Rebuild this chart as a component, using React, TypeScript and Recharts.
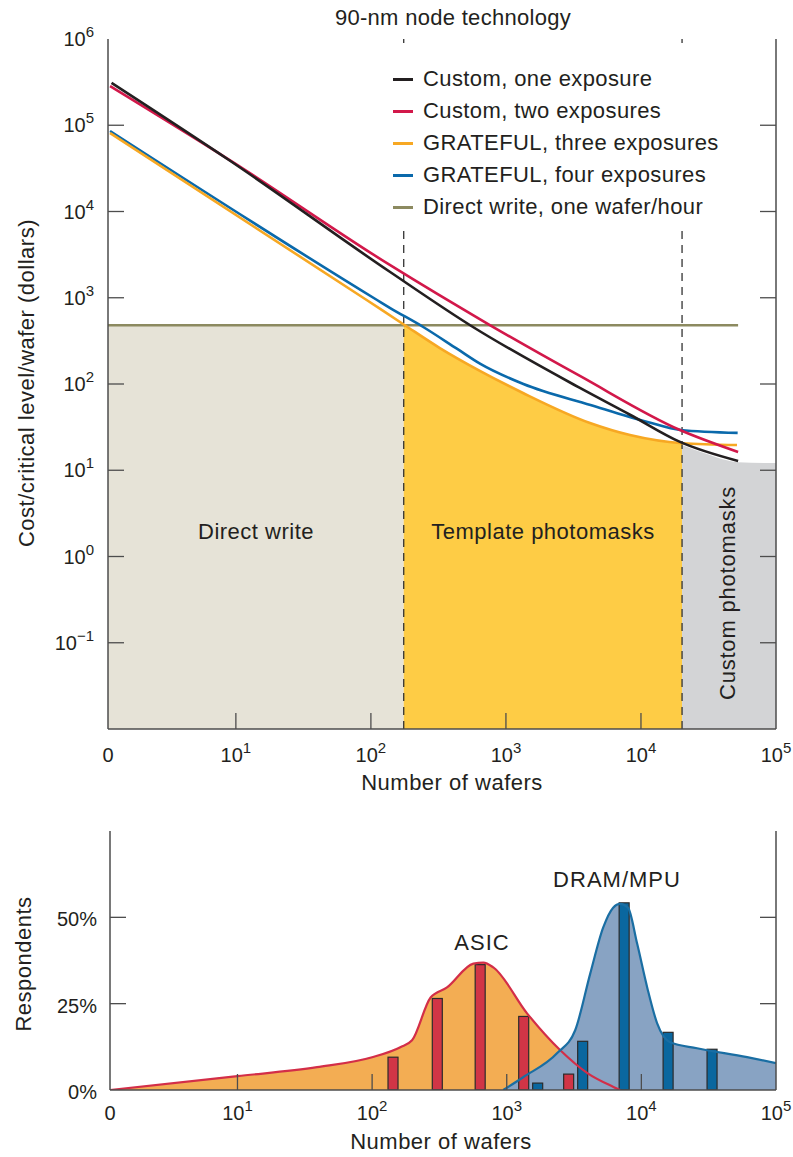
import React from "react";
import {
  Area,
  Bar,
  Cell,
  ComposedChart,
  Legend,
  Line,
  ReferenceLine,
  XAxis,
  YAxis,
} from "recharts";

// axis ranges (x axis starts at "0" = first decade)
const X_MIN = 1.13;
const X_MAX = 100000;
const COST_MIN = 0.01;
const COST_MAX = 1000000;
const PCT_MAX = 75;

// region boundaries and the flat direct-write cost
const TEMPLATE_START = 175;
const CUSTOM_START = 20150;
const DIRECT_WRITE_COST = 480;

const waferTicks = [X_MIN, 10, 100, 1000, 10000, 100000];
const costTicks = [1000000, 100000, 10000, 1000, 100, 10, 1, 0.1];
const pctTicks = [0, 25, 50];

const seriesNames = [
  "Custom, one exposure",
  "Custom, two exposures",
  "GRATEFUL, three exposures",
  "GRATEFUL, four exposures",
  "Direct write, one wafer/hour",
];

// cost per critical level per wafer (dollars) vs number of wafers
const customOne = [
  { n: 1.2, cost: 310000 },
  { n: 9, cost: 39000 },
  { n: 138, cost: 2000 },
  { n: 570, cost: 458 },
  { n: 3530, cost: 90 },
  { n: 8300, cost: 44 },
  { n: 19450, cost: 21.3 },
  { n: 52400, cost: 12.8 },
];
const customTwo = [
  { n: 1.17, cost: 285000 },
  { n: 9, cost: 39500 },
  { n: 138, cost: 2400 },
  { n: 760, cost: 483 },
  { n: 3530, cost: 124 },
  { n: 19450, cost: 29.3 },
  { n: 52400, cost: 16.3 },
];
const gratefulThree = [
  { n: 1.17, cost: 81300 },
  { n: 93, cost: 942 },
  { n: 175, cost: 490 },
  { n: 324, cost: 261 },
  { n: 641, cost: 142 },
  { n: 1337, cost: 78.7 },
  { n: 4190, cost: 35.3 },
  { n: 8290, cost: 25.6 },
  { n: 20150, cost: 20.6 },
  { n: 51400, cost: 19.6 },
];
const gratefulFour = [
  { n: 1.17, cost: 85800 },
  { n: 111, cost: 942 },
  { n: 139, cost: 760 },
  { n: 244, cost: 458 },
  { n: 436, cost: 255 },
  { n: 647, cost: 171 },
  { n: 1347, cost: 100 },
  { n: 4227, cost: 57.1 },
  { n: 11190, cost: 36.3 },
  { n: 19650, cost: 29.3 },
  { n: 52000, cost: 27.1 },
];
const directWrite = [
  { n: X_MIN, cost: DIRECT_WRITE_COST },
  { n: 52400, cost: DIRECT_WRITE_COST },
];
const customMaskZone = [
  { n: 20150, cost: 19.6 },
  { n: 30000, cost: 15.6 },
  { n: 52400, cost: 12.4 },
  { n: 100000, cost: 12.1 },
];

// survey of respondents (%) vs number of wafers
const asicCurve = [
  { n: X_MIN, pct: 0 },
  { n: 10, pct: 4.0 },
  { n: 39, pct: 6.6 },
  { n: 100, pct: 9.5 },
  { n: 162, pct: 12.4 },
  { n: 198, pct: 14.4 },
  { n: 272, pct: 26.8 },
  { n: 360, pct: 29.7 },
  { n: 565, pct: 36.6 },
  { n: 670, pct: 36.9 },
  { n: 795, pct: 35.5 },
  { n: 1415, pct: 22.2 },
  { n: 2500, pct: 11.5 },
  { n: 3970, pct: 4.9 },
  { n: 6200, pct: 0.9 },
  { n: 6950, pct: 0 },
];
const dramCurve = [
  { n: 942, pct: 0 },
  { n: 1324, pct: 3.7 },
  { n: 2372, pct: 10.7 },
  { n: 3224, pct: 17.3 },
  { n: 4170, pct: 33.7 },
  { n: 5200, pct: 47 },
  { n: 6170, pct: 52.8 },
  { n: 6950, pct: 53.9 },
  { n: 7950, pct: 52.8 },
  { n: 9300, pct: 42.4 },
  { n: 11050, pct: 29.7 },
  { n: 13100, pct: 19.3 },
  { n: 16350, pct: 13.8 },
  { n: 25900, pct: 12.1 },
  { n: 61000, pct: 9.5 },
  { n: 100000, pct: 7.8 },
];
const asicBars = [
  { n: 143, pct: 9.5 },
  { n: 305, pct: 26.5 },
  { n: 635, pct: 36.3 },
  { n: 1337, pct: 21.3 },
  { n: 2884, pct: 4.6 },
];
const dramBars = [
  { n: 1698, pct: 2.0 },
  { n: 3665, pct: 14.1 },
  { n: 7450, pct: 54.2 },
  { n: 15800, pct: 16.7 },
  { n: 33500, pct: 11.8 },
];

const FONT = '"Liberation Sans", Arial, Helvetica, sans-serif';
const INK = "#231f20";
const AXIS = "#4d4d4d";
const TICK_LEN = 16;
const BAR_W = 10;
const axisLine = { stroke: AXIS, strokeWidth: 1.5 };

const C = {
  black: "#231f20",
  red: "#d2184a",
  orange: "#f7a823",
  blue: "#0a69ab",
  olive: "#8c8a60",
  beige: "#e6e3d7",
  yellow: "#fecc45",
  grey: "#d3d4d6",
  asicFill: "#f3ad53",
  asicLine: "#d32e48",
  asicBar: "#d13546",
  dramFill: "#88a3c3",
  dramLine: "#1a6ea3",
  dramBar: "#0a679f",
};

function PowerLabel({ x, y, value, anchor }: any) {
  if (value === X_MIN) {
    return (
      <text x={x} y={y} textAnchor={anchor} fontSize={20} fontFamily={FONT} fill={INK}>
        0
      </text>
    );
  }
  const e = Math.round(Math.log10(value));
  const exp = e < 0 ? "\u2212" + -e : String(e);
  return (
    <text x={x} y={y} textAnchor={anchor} fontSize={20} fontFamily={FONT} fill={INK}>
      <tspan>10</tspan>
      <tspan dy={-9} fontSize={15}>
        {exp}
      </tspan>
    </text>
  );
}

function WaferTick(props: any) {
  const { x, y, payload, labelDy } = props;
  const v = payload.value;
  const edge = v === X_MIN || v === X_MAX;
  return (
    <g>
      {!edge && <line x1={x} y1={y} x2={x} y2={y - TICK_LEN} stroke={AXIS} strokeWidth={1.3} />}
      <PowerLabel x={x} y={y + labelDy} value={v} anchor="middle" />
    </g>
  );
}

function TopTick(props: any) {
  const { x, y, payload } = props;
  const v = payload.value;
  if (v === X_MIN || v === X_MAX) return <g />;
  return <line x1={x} y1={y} x2={x} y2={y + TICK_LEN} stroke={AXIS} strokeWidth={1.3} />;
}

function CostTick(props: any) {
  const { x, y, payload } = props;
  const v = payload.value;
  return (
    <g>
      {v !== COST_MAX && <line x1={x} y1={y} x2={x + TICK_LEN} y2={y} stroke={AXIS} strokeWidth={1.3} />}
      <PowerLabel x={x - 14} y={y + 7} value={v} anchor="end" />
    </g>
  );
}

function RightTick(props: any) {
  const { x, y, payload, top } = props;
  if (payload.value === top || payload.value === 0) return <g />;
  return <line x1={x} y1={y} x2={x - TICK_LEN} y2={y} stroke={AXIS} strokeWidth={1.3} />;
}

function PctTick(props: any) {
  const { x, y, payload } = props;
  const v = payload.value;
  return (
    <g>
      {v !== 0 && <line x1={x} y1={y} x2={x + TICK_LEN} y2={y} stroke={AXIS} strokeWidth={1.3} />}
      <text x={x - 13} y={y + 9} textAnchor="end" fontSize={20} fontFamily={FONT} fill={INK}>
        {v}%
      </text>
    </g>
  );
}

// fixed-width bar centred on its x value (the log axis gives no band width)
function SurveyBar(props: any) {
  const { x, y, width, height, payload } = props;
  if (height == null || isNaN(height)) return <g />;
  const cx = x + (width || 0) / 2;
  const fill = payload && payload.group === "ASIC" ? C.asicBar : C.dramBar;
  return (
    <rect x={cx - BAR_W / 2} y={y} width={BAR_W} height={height} fill={fill} stroke="#2b2b2b" strokeWidth={1.2} />
  );
}

function Caption({ x, y, size = 22, rotate = false, spacing = 0.5, children }: any) {
  return (
    <div
      style={{
        position: "absolute",
        left: x,
        top: y,
        transform: `translate(-50%, -50%)${rotate ? " rotate(-90deg)" : ""}`,
        whiteSpace: "nowrap",
        fontSize: size,
        fontFamily: FONT,
        color: INK,
        letterSpacing: spacing,
        lineHeight: 1,
      }}
    >
      {children}
    </div>
  );
}

const costLines = [
  { name: seriesNames[0], data: customOne, color: C.black },
  { name: seriesNames[1], data: customTwo, color: C.red },
  { name: seriesNames[2], data: gratefulThree, color: C.orange },
  { name: seriesNames[3], data: gratefulFour, color: C.blue },
  { name: seriesNames[4], data: directWrite, color: C.olive },
];

function CostLegend() {
  return (
    <div
      style={{
        background: "#fff",
        padding: "15px 14px 4px 8px",
        fontFamily: FONT,
        fontSize: 22,
        letterSpacing: 0.4,
        color: INK,
      }}
    >
      {costLines.map((s) => (
        <div key={s.name} style={{ display: "flex", alignItems: "center", height: 32, whiteSpace: "nowrap" }}>
          <span style={{ display: "inline-block", width: 20, height: 3, background: s.color, marginRight: 10 }} />
          {s.name}
        </div>
      ))}
    </div>
  );
}

function CostChart() {
  const templateZone = gratefulThree.filter((d) => d.n >= TEMPLATE_START && d.n <= CUSTOM_START);
  const directZone = [
    { n: X_MIN, cost: DIRECT_WRITE_COST },
    { n: TEMPLATE_START, cost: DIRECT_WRITE_COST },
  ];
  const drawOrder = [4, 3, 2, 1, 0];
  return (
    <ComposedChart width={793} height={800} margin={{ top: 39, right: 16, bottom: 0, left: 0 }}>
      <XAxis
        dataKey="n"
        type="number"
        scale="log"
        domain={[X_MIN, X_MAX]}
        ticks={waferTicks}
        interval={0}
        allowDataOverflow
        height={71}
        tickSize={0}
        tickMargin={0}
        tickLine={false}
        axisLine={axisLine}
        tick={<WaferTick labelDy={33} />}
      />
      <XAxis
        xAxisId="top"
        orientation="top"
        type="number"
        scale="log"
        domain={[X_MIN, X_MAX]}
        allowDataOverflow
        height={0}
        tick={false}
        tickLine={false}
        axisLine={axisLine}
      />
      <YAxis
        type="number"
        scale="log"
        domain={[COST_MIN, COST_MAX]}
        ticks={costTicks}
        interval={0}
        allowDataOverflow
        width={108}
        tickSize={0}
        tickMargin={0}
        tickLine={false}
        axisLine={axisLine}
        tick={<CostTick />}
      />
      <YAxis
        yAxisId="right"
        orientation="right"
        type="number"
        scale="log"
        domain={[COST_MIN, COST_MAX]}
        ticks={costTicks}
        interval={0}
        allowDataOverflow
        width={1}
        tickSize={0}
        tickMargin={0}
        tickLine={false}
        axisLine={axisLine}
        tick={<RightTick top={COST_MAX} />}
      />
      <Legend
        layout="vertical"
        align="center"
        verticalAlign="middle"
        content={<CostLegend />}
        wrapperStyle={{ left: 385, top: 48, width: "auto" }}
      />
      <Area data={directZone} dataKey="cost" type="linear" fill={C.beige} fillOpacity={1} stroke="none" baseValue={COST_MIN} isAnimationActive={false} legendType="none" />
      <Area data={templateZone} dataKey="cost" type="monotone" fill={C.yellow} fillOpacity={1} stroke="none" baseValue={COST_MIN} isAnimationActive={false} legendType="none" />
      <Area data={customMaskZone} dataKey="cost" type="monotone" fill={C.grey} fillOpacity={1} stroke="none" baseValue={COST_MIN} isAnimationActive={false} legendType="none" />
      <ReferenceLine x={TEMPLATE_START} stroke="#333" strokeWidth={1.3} strokeDasharray="8 6" />
      <ReferenceLine x={CUSTOM_START} stroke="#333" strokeWidth={1.3} strokeDasharray="8 6" />
      {drawOrder.map((i) => (
        <Line
          key={costLines[i].name}
          name={costLines[i].name}
          data={costLines[i].data}
          dataKey="cost"
          type="monotone"
          stroke={costLines[i].color}
          strokeWidth={2.6}
          dot={false}
          isAnimationActive={false}
        />
      ))}
    </ComposedChart>
  );
}

function SurveyChart() {
  const barTable = [
    ...asicBars.map((b) => ({ ...b, group: "ASIC" })),
    ...dramBars.map((b) => ({ ...b, group: "DRAM/MPU" })),
  ];
  return (
    <ComposedChart width={793} height={357} data={barTable} margin={{ top: 31, right: 16, bottom: 0, left: 0 }}>
      <XAxis
        dataKey="n"
        type="number"
        scale="log"
        domain={[X_MIN, X_MAX]}
        ticks={waferTicks}
        interval={0}
        allowDataOverflow
        height={67}
        tickSize={0}
        tickMargin={0}
        tickLine={false}
        axisLine={axisLine}
        tick={<WaferTick labelDy={30} />}
      />
      <XAxis
        xAxisId="top"
        orientation="top"
        type="number"
        scale="log"
        domain={[X_MIN, X_MAX]}
        ticks={waferTicks}
        interval={0}
        allowDataOverflow
        height={0}
        tickSize={0}
        tickMargin={0}
        tickLine={false}
        axisLine={axisLine}
        tick={<TopTick />}
      />
      <YAxis
        type="number"
        domain={[0, PCT_MAX]}
        ticks={pctTicks}
        interval={0}
        allowDataOverflow
        width={110}
        tickSize={0}
        tickMargin={0}
        tickLine={false}
        axisLine={axisLine}
        tick={<PctTick />}
      />
      <YAxis
        yAxisId="right"
        orientation="right"
        type="number"
        domain={[0, PCT_MAX]}
        ticks={pctTicks}
        interval={0}
        allowDataOverflow
        width={1}
        tickSize={0}
        tickMargin={0}
        tickLine={false}
        axisLine={axisLine}
        tick={<RightTick top={PCT_MAX} />}
      />
      <Area data={asicCurve} dataKey="pct" type="monotone" fill={C.asicFill} fillOpacity={1} stroke="none" isAnimationActive={false} />
      <Area data={dramCurve} dataKey="pct" type="monotone" fill={C.dramFill} fillOpacity={1} stroke="none" isAnimationActive={false} />
      <Line data={asicCurve} dataKey="pct" type="monotone" stroke={C.asicLine} strokeWidth={2.2} dot={false} isAnimationActive={false} />
      <Line data={dramCurve} dataKey="pct" type="monotone" stroke={C.dramLine} strokeWidth={2.2} dot={false} isAnimationActive={false} />
      <Bar dataKey="pct" barSize={BAR_W} shape={<SurveyBar />} isAnimationActive={false}>
        {barTable.map((b, i) => (
          <Cell key={i} fill={b.group === "ASIC" ? C.asicBar : C.dramBar} />
        ))}
      </Bar>
    </ComposedChart>
  );
}

export default function App() {
  return (
    <div style={{ position: "absolute", left: 0, top: 0, width: 793, height: 1157, background: "#fff" }}>
      <div style={{ position: "absolute", left: 0, top: 0 }}>
        <CostChart />
      </div>
      <div style={{ position: "absolute", left: 0, top: 800 }}>
        <SurveyChart />
      </div>
      <Caption x={453} y={18} size={22} spacing={0.3}>90-nm node technology</Caption>
      <Caption x={27} y={383} rotate>Cost/critical level/wafer (dollars)</Caption>
      <Caption x={452} y={783}>Number of wafers</Caption>
      <Caption x={256} y={532}>Direct write</Caption>
      <Caption x={543} y={532}>Template photomasks</Caption>
      <Caption x={728} y={593} rotate spacing={0.8}>Custom photomasks</Caption>
      <Caption x={24} y={964} rotate>Respondents</Caption>
      <Caption x={441} y={1142}>Number of wafers</Caption>
      <Caption x={482} y={943} spacing={1}>ASIC</Caption>
      <Caption x={617} y={880} spacing={1}>DRAM/MPU</Caption>
    </div>
  );
}
